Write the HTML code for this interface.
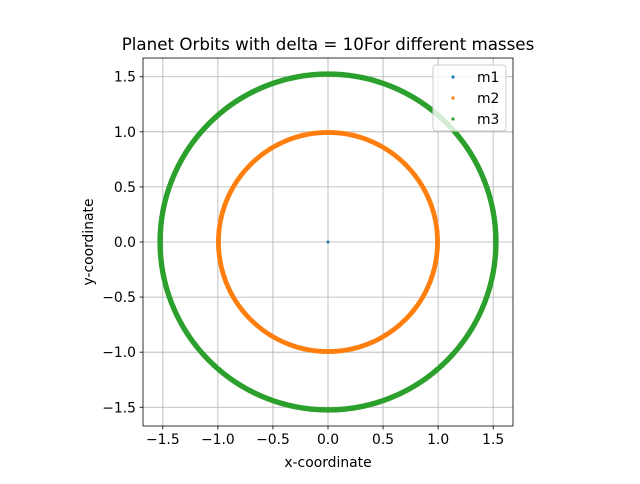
<!DOCTYPE html>
<html><head><meta charset="utf-8"><style>
body{margin:0;background:#fff;font-family:"DejaVu Sans","Liberation Sans",sans-serif}
</style></head><body>
<svg id="c" width="640" height="480" xmlns="http://www.w3.org/2000/svg" font-family="DejaVu Sans, Liberation Sans, sans-serif"></svg>
<script>
const seriesNames=["m1","m2","m3"];
const seriesColors=["#1f77b4","#ff7f0e","#2ca02c"];
const orbitRadius=[0.0,0.995,1.525];
const orbitWidth=[0.03,0.03,0.035];
const xTicks=[-1.5,-1.0,-0.5,0.0,0.5,1.0,1.5];
const yTicks=[-1.5,-1.0,-0.5,0.0,0.5,1.0,1.5];
const L=143,R=513,T=58,B=426,xmin=-1.68,xmax=1.68,ymin=-1.67,ymax=1.67;
const sx=v=>L+(v-xmin)/(xmax-xmin)*(R-L);
const sy=v=>B-(v-ymin)/(ymax-ymin)*(B-T);
const svg=document.getElementById('c');
const NS="http://www.w3.org/2000/svg";
function mk(t,a,p){const e=document.createElementNS(NS,t);for(const k in a)e.setAttribute(k,a[k]);(p||svg).appendChild(e);return e;}
mk('rect',{x:L,y:T,width:R-L,height:B-T,fill:'#fff'});
xTicks.forEach(v=>{
 const g=mk('line',{x1:sx(v),x2:sx(v),y1:T,y2:B,stroke:'#b0b0b0','stroke-width':0.8});
 
 
 mk('line',{x1:sx(v),x2:sx(v),y1:B,y2:B+3.5,stroke:'#000','stroke-width':0.8});
 const t=mk('text',{x:sx(v),y:B+18,'font-size':13.9,'text-anchor':'middle'});t.textContent=v.toFixed(1).replace('-','−');
 
 
});
yTicks.forEach(v=>{
 const g=mk('line',{x1:L,x2:R,y1:sy(v),y2:sy(v),stroke:'#b0b0b0','stroke-width':0.8});
 
 
 mk('line',{x1:L-3.5,x2:L,y1:sy(v),y2:sy(v),stroke:'#000','stroke-width':0.8});
 const t=mk('text',{x:L-7,y:sy(v)+5,'font-size':13.9,'text-anchor':'end'});t.textContent=v.toFixed(1).replace('-','−');
 
 
});
const kx=(R-L)/(xmax-xmin);
orbitRadius.forEach((r,i)=>{
 let e;
 if(r<=0.0001){e=mk('circle',{cx:sx(0),cy:sy(0),r:1.5,fill:seriesColors[i]});}
 else e=mk('circle',{cx:sx(0),cy:sy(0),r:r*kx,fill:'none',stroke:seriesColors[i],'stroke-width':orbitWidth[i]*kx+1.5});
 
 
});
mk('rect',{x:L,y:T,width:R-L,height:B-T,fill:'none',stroke:'#000','stroke-width':0.8});
const lg=mk('g',{});


mk('rect',{x:433,y:65,width:73,height:66,rx:3,fill:'#fff','fill-opacity':0.8,stroke:'#ccc'},lg);
seriesNames.forEach((n,i)=>{
 const y=77+i*21;
 mk('circle',{cx:453,cy:y,r:1.6,fill:seriesColors[i]},lg);
 const t=mk('text',{x:477,y:y+5,'font-size':13.9},lg);t.textContent=n;
 
 
});
let t=mk('text',{x:328,y:50,'font-size':16.7,'text-anchor':'middle'});t.textContent='Planet Orbits with delta = 10For different masses';


t=mk('text',{x:328,y:467,'font-size':13.9,'text-anchor':'middle'});t.textContent='x-coordinate';


t=mk('text',{x:93,y:242,'font-size':13.9,'text-anchor':'middle',transform:'rotate(-90 93 242)'});t.textContent='y-coordinate';


</script>
</body></html>
